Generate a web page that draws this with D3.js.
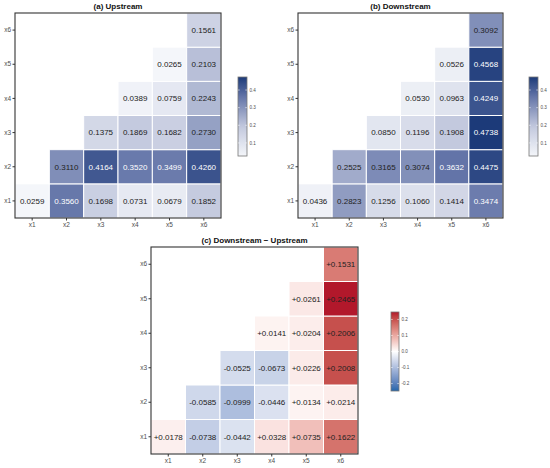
<!DOCTYPE html>
<html><head><meta charset="utf-8">
<script src="https://cdn.jsdelivr.net/npm/d3@7"></script>
<style>body{margin:0;background:#fff}svg{display:block;font-family:"Liberation Sans",Arial,sans-serif}</style>
</head><body>
<svg id="c" width="550" height="468"></svg>
<script>
const vars = ["x1","x2","x3","x4","x5","x6"];
// each row i holds values for columns x_i .. x6 (upper triangle)
const upstream = [
  [0.0259, 0.3560, 0.1698, 0.0731, 0.0679, 0.1852],
  [0.3110, 0.4164, 0.3520, 0.3499, 0.4260],
  [0.1375, 0.1869, 0.1682, 0.2730],
  [0.0389, 0.0759, 0.2243],
  [0.0265, 0.2103],
  [0.1561]
];
const downstream = [
  [0.0436, 0.2823, 0.1256, 0.1060, 0.1414, 0.3474],
  [0.2525, 0.3165, 0.3074, 0.3632, 0.4475],
  [0.0850, 0.1196, 0.1908, 0.4738],
  [0.0530, 0.0963, 0.4249],
  [0.0526, 0.4568],
  [0.3092]
];
const difference = [
  [0.0178, -0.0738, -0.0442, 0.0328, 0.0735, 0.1622],
  [-0.0585, -0.0999, -0.0446, 0.0134, 0.0214],
  [-0.0525, -0.0673, 0.0226, 0.2008],
  [0.0141, 0.0204, 0.2006],
  [0.0261, 0.2465],
  [0.1531]
];
const seqTicks = [0.1, 0.2, 0.3, 0.4];
const divTicks = [-0.2, -0.1, 0.0, 0.1, 0.2];
const titles = ["(a) Upstream", "(b) Downstream", "(c) Downstream \u2212 Upstream"];

const svg = d3.select("#c");
const defs = svg.append("defs");

function toCells(m){
  const out = [];
  m.forEach((row, i) => row.forEach((v, k) => out.push({r: vars[i], c: vars[i + k], v})));
  return out;
}
const hy = s => s.replace("\u2212", "-");

const allSeq = toCells(upstream).concat(toCells(downstream)).map(d => d.v);
const [sLo, sHi] = d3.extent(allSeq);
// sequential palette: anchor positions as fractions of the shared range
const seqColor = d3.scaleLinear()
  .domain([0, 0.368, 0.746, 1].map(t => sLo + t * (sHi - sLo)))
  .range(["#f4f6fa", "#c3c9de", "#6576a9", "#1c3a79"])
  .interpolate(d3.interpolateRgb);
const maxAbs = d3.max(toCells(difference), d => Math.abs(d.v));
const divColor = d3.scaleLinear().domain([-maxAbs, 0, maxAbs]).range(["#2166ac", "#ffffff", "#b2182b"]).interpolate(d3.interpolateLab);

function panel(opt){
  const {m, x0, y0, w, h, color, fmt, textColor, title, lg, ticks, id} = opt;
  const g = svg.append("g");
  const x = d3.scaleBand().domain(vars).range([x0, x0 + w]);
  const y = d3.scaleBand().domain(vars).range([y0 + h, y0]);
  const cells = toCells(m);
  g.append("rect").attr("x", x0).attr("y", y0).attr("width", w).attr("height", h).attr("fill", "#fff");
  g.selectAll("rect.cell").data(cells).join("rect").attr("class", "cell")
    .attr("x", d => x(d.c)).attr("y", d => y(d.r))
    .attr("width", x.bandwidth()).attr("height", y.bandwidth())
    .attr("fill", d => color(d.v)).attr("stroke", "#fff").attr("stroke-width", 1);
  g.selectAll("text.val").data(cells).join("text").attr("class", "val")
    .attr("x", d => x(d.c) + x.bandwidth() / 2).attr("y", d => y(d.r) + y.bandwidth() / 2)
    .attr("dy", "0.35em").attr("text-anchor", "middle").attr("font-size", 8)
    .attr("fill", d => textColor(d.v)).text(d => hy(fmt(d.v)));
  g.append("rect").attr("x", x0).attr("y", y0).attr("width", w).attr("height", h)
    .attr("fill", "none").attr("stroke", "#333").attr("stroke-width", 1.1);
  const ax = g.append("g").attr("transform", `translate(0,${y0 + h})`).call(d3.axisBottom(x).tickSize(2.5).tickPadding(1.5));
  const ay = g.append("g").attr("transform", `translate(${x0},0)`).call(d3.axisLeft(y).tickSize(2.5).tickPadding(1.5));
  [ax, ay].forEach(a => {
    a.select(".domain").remove();
    a.selectAll("line").attr("stroke", "#333");
    a.selectAll("text").attr("font-size", 6.5).attr("fill", "#4d4d4d").attr("font-family", "Liberation Sans, Arial, sans-serif");
  });
  g.append("text").attr("x", x0 + w / 2).attr("y", y0 - 4).attr("text-anchor", "middle")
    .attr("font-size", 8).attr("font-weight", "bold").attr("fill", "#111").text(title);
  // colour bar
  const dom = color.domain();
  const lo = dom[0], hi = dom[dom.length - 1];
  const grad = defs.append("linearGradient").attr("id", id).attr("x1", 0).attr("y1", 1).attr("x2", 0).attr("y2", 0);
  d3.range(0, 1.0001, 0.05).forEach(t => grad.append("stop").attr("offset", t).attr("stop-color", color(lo + t * (hi - lo))));
  const ly = d3.scaleLinear().domain([lo, hi]).range([lg.y + lg.h, lg.y]);
  g.append("rect").attr("x", lg.x).attr("y", lg.y).attr("width", lg.w).attr("height", lg.h)
    .attr("fill", `url(#${id})`).attr("stroke", "#777").attr("stroke-width", 0.8);
  g.selectAll("line.lt").data(ticks).join("line").attr("class", "lt")
    .attr("x1", lg.x).attr("x2", lg.x + 1.8).attr("y1", d => ly(d)).attr("y2", d => ly(d)).attr("stroke", "#fff").attr("stroke-width", 0.5);
  g.selectAll("line.rt").data(ticks).join("line").attr("class", "rt")
    .attr("x1", lg.x + lg.w - 1.8).attr("x2", lg.x + lg.w).attr("y1", d => ly(d)).attr("y2", d => ly(d)).attr("stroke", "#fff").attr("stroke-width", 0.5);
  g.selectAll("text.lg").data(ticks).join("text").attr("class", "lg")
    .attr("x", lg.x + lg.w + 2.5).attr("y", d => ly(d)).attr("dy", "0.35em")
    .attr("font-size", 4.6).attr("fill", "#4d4d4d").text(d => hy(d3.format(".1f")(d)));
}

const f4 = d3.format(".4f");
const seqText = v => v > 0.33 ? "#ffffff" : "#222222";
panel({m: upstream, x0: 15, y0: 13, w: 206, h: 205, color: seqColor, fmt: f4, textColor: seqText,
  title: titles[0], lg: {x: 238, y: 77, w: 9, h: 79}, ticks: seqTicks, id: "ga"});
panel({m: downstream, x0: 298, y0: 13, w: 205, h: 205, color: seqColor, fmt: f4, textColor: seqText,
  title: titles[1], lg: {x: 529, y: 77, w: 9, h: 79}, ticks: seqTicks, id: "gb"});
panel({m: difference, x0: 151, y0: 247, w: 207, h: 207, color: divColor, fmt: d3.format("+.4f"), textColor: () => "#222222",
  title: titles[2], lg: {x: 391, y: 312, w: 8, h: 79}, ticks: divTicks, id: "gc"});
</script>
</body></html>
